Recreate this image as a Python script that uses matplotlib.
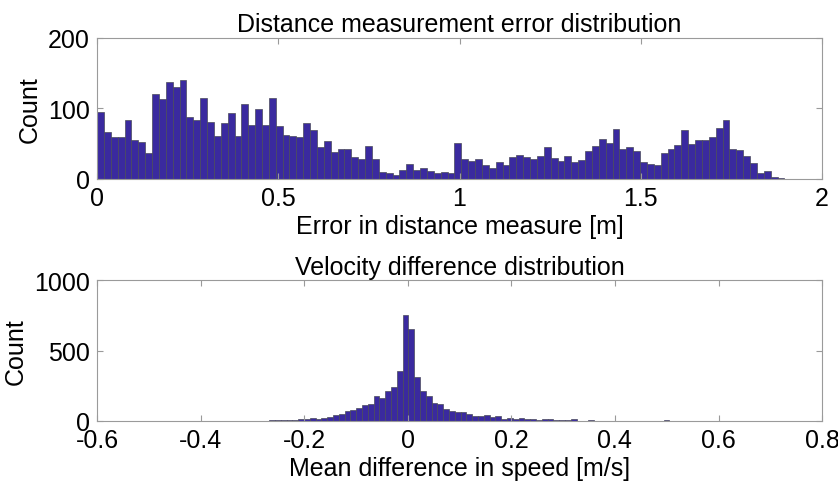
import matplotlib
matplotlib.use("Agg")
import matplotlib.pyplot as plt
import numpy as np

# Top histogram: distance error, 100 bins over [0, DIST_MAX]
DIST_MIN, DIST_MAX = 0.0, 1.896
dist_counts = [
    95, 67, 59, 59, 83, 56, 52, 37, 121, 113,
    138, 131, 141, 88, 83, 115, 81, 61, 79, 94,
    61, 107, 77, 99, 76, 115, 75, 62, 61, 60,
    80, 70, 46, 54, 38, 42, 42, 31, 29, 47,
    29, 10, 9, 5, 13, 21, 13, 16, 11, 8,
    10, 8, 51, 28, 26, 29, 20, 16, 24, 20,
    31, 34, 31, 28, 33, 46, 30, 26, 33, 24,
    27, 40, 47, 57, 51, 71, 43, 45, 39, 24,
    21, 20, 37, 43, 48, 69, 49, 55, 56, 59,
    72, 84, 43, 41, 33, 23, 9, 12, 3, 2,
]

# Bottom histogram: velocity difference, 100 bins over [VEL_MIN, VEL_MAX]
VEL_MIN, VEL_MAX = -0.402, 0.718
vel_counts = [
    0, 1, 0, 1, 1, 1, 2, 1, 2, 3,
    2, 3, 4, 5, 6, 7, 9, 11, 14, 19,
    17, 24, 31, 40, 49, 68, 80, 94, 115, 120,
    174, 160, 214, 242, 355, 755, 650, 313, 214, 174,
    127, 120, 87, 71, 61, 64, 49, 35, 35, 40,
    31, 35, 16, 19, 16, 21, 12, 12, 9, 14,
    12, 5, 5, 9, 14, 2, 2, 7, 2, 1,
    3, 1, 3, 2, 1, 2, 3, 1, 2, 1,
    5, 1, 2, 1, 2, 3, 3, 1, 1, 2,
    1, 1, 1, 2, 1, 2, 3, 3, 2, 1,
]

BAR_COLOR = "#3a2a9f"
EDGE_COLOR = "#4a4a5a"
BOX_COLOR = "#9a9a9a"
FS = 18

plt.rcParams["font.family"] = ["Liberation Sans", "DejaVu Sans"]
plt.rcParams["font.size"] = FS


def draw_hist(ax, counts, lo, hi):
    edges = np.linspace(lo, hi, len(counts) + 1)
    ax.bar(edges[:-1], counts, width=np.diff(edges), align="edge",
           color=BAR_COLOR, edgecolor=EDGE_COLOR, linewidth=0.5)
    for s in ax.spines.values():
        s.set_color(BOX_COLOR)
        s.set_linewidth(0.8)
    ax.tick_params(direction="in", top=True, right=True, length=4,
                   color=BOX_COLOR, labelsize=FS, pad=5)


fig = plt.figure(figsize=(8.38, 4.85), dpi=100)

ax1 = fig.add_axes([0.1158, 0.6289, 0.8652, 0.2907])
draw_hist(ax1, dist_counts, DIST_MIN, DIST_MAX)
ax1.set_xlim(0, 2)
ax1.set_ylim(0, 200)
ax1.set_xticks([0, 0.5, 1, 1.5, 2])
ax1.set_xticklabels(["0", "0.5", "1", "1.5", "2"])
ax1.set_yticks([0, 100, 200])
ax1.set_title("Distance measurement error distribution", fontsize=FS, pad=5)
ax1.set_xlabel("Error in distance measure [m]", fontsize=FS, labelpad=3)
ax1.set_ylabel("Count", fontsize=FS, labelpad=5)

ax2 = fig.add_axes([0.1158, 0.1299, 0.8652, 0.2907])
draw_hist(ax2, vel_counts, VEL_MIN, VEL_MAX)
ax2.set_xlim(-0.6, 0.8)
ax2.set_ylim(0, 1000)
ax2.set_xticks([-0.6, -0.4, -0.2, 0, 0.2, 0.4, 0.6, 0.8])
ax2.set_xticklabels(["-0.6", "-0.4", "-0.2", "0", "0.2", "0.4", "0.6", "0.8"])
ax2.set_yticks([0, 500, 1000])
ax2.set_title("Velocity difference distribution", fontsize=FS, pad=4)
ax2.set_xlabel("Mean difference in speed [m/s]", fontsize=FS, labelpad=3)
ax2.set_ylabel("Count", fontsize=FS, labelpad=5)

fig.savefig("out.png", dpi=100)
